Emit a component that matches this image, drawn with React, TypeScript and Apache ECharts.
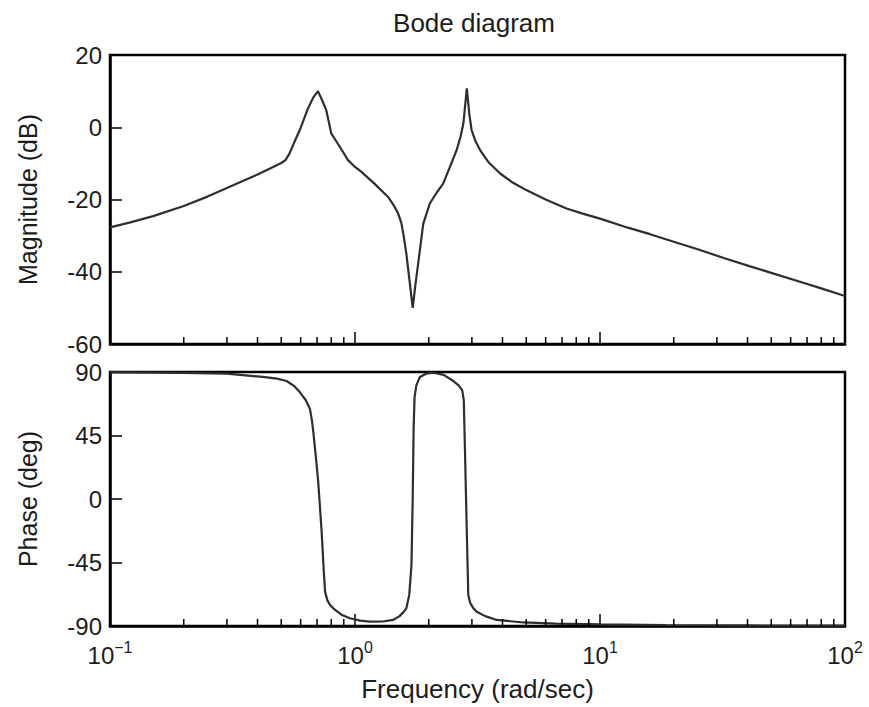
import React, { useEffect, useRef } from "react";
import * as echarts from "echarts";

// Magnitude curve (frequency in rad/sec, magnitude in dB)
const magFreq = [
  0.1, 0.12, 0.15, 0.2, 0.25, 0.3, 0.35, 0.4, 0.45, 0.5, 0.52, 0.54, 0.57, 0.6, 0.64, 0.675, 0.706,
  0.735, 0.763, 0.8, 0.85, 0.9, 0.936, 1.0, 1.06, 1.2, 1.365, 1.45, 1.5, 1.545, 1.575, 1.62, 1.67,
  1.72, 1.765, 1.81, 1.86, 1.9, 2.02, 2.15, 2.29, 2.45, 2.6, 2.7, 2.77, 2.86, 2.93, 2.99, 3.1, 3.24,
  3.5, 3.91, 4.4, 5.0, 6.0, 7.3, 8.5, 10, 13, 16, 20, 25.6, 32, 41, 50, 65, 80, 100,
];
const magDb = [
  -27.7, -26.4, -24.6, -21.8, -19.2, -16.8, -14.8, -13.1, -11.4, -9.9, -9.1, -7.3, -3.6, -0.2, 4.9, 8.2, 10.0,
  7.4, 4.8, -1.7, -4.5, -7.2, -9.1, -11.0, -12.3, -15.6, -19.3, -22.0, -23.9, -26.4, -29.5, -35.0, -42.5,
  -50.0, -43.5, -37.8, -31.5, -26.7, -21.1, -18.2, -15.6, -10.7, -6.3, -2.5, 1.1, 10.8, 3.5, -0.7, -3.8, -6.3,
  -9.6, -12.8, -15.3, -17.4, -20.0, -22.5, -23.9, -25.3, -27.8, -29.6, -31.7, -34.0, -36.2, -38.5, -40.3, -42.7, -44.6, -46.7,
];

// Phase curve (frequency in rad/sec, phase in degrees)
const phaseFreq = [
  0.1, 0.2, 0.3, 0.42, 0.48, 0.526, 0.565, 0.597, 0.63, 0.655, 0.668, 0.676, 0.692, 0.708, 0.731, 0.745,
  0.755, 0.77, 0.79, 0.815, 0.88, 0.954, 1.05, 1.15, 1.3, 1.43, 1.52, 1.58, 1.62, 1.665, 1.7, 1.72, 1.735, 1.75,
  1.78, 1.84, 1.95, 2.09, 2.3, 2.52, 2.65, 2.74, 2.78, 2.81, 2.86, 2.9, 2.95, 3.03, 3.14, 3.4, 3.79, 4.86, 6.6,
  10, 18.6, 40, 100,
];
const phaseDeg = [
  89.8, 89.4, 88.8, 86.5, 85.3, 83.6, 80.0, 75.4, 70.0, 63.7, 55.0, 47.2, 30.0, 11.9, -23.4, -50.0,
  -65.8, -71.5, -75.0, -77.5, -82.0, -84.5, -86.2, -86.9, -86.8, -85.7, -83.0, -80.0, -77.5, -68.0, -46.9, 0.2, 50.0, 72.0,
  80.5, 86.5, 88.8, 89.5, 88.0, 83.6, 80.5, 77.0, 70.0, 35.4, -23.4, -68.0, -73.5, -77.0, -79.9, -83.0, -85.7, -87.5, -88.3,
  -88.9, -89.3, -89.6, -89.8,
];

// Axis ticks
const minorTicks = [0.2, 0.3, 0.4, 0.5, 0.6, 0.7, 0.8, 0.9, 2, 3, 4, 5, 6, 7, 8, 9, 20, 30, 40, 50, 60, 70, 80, 90];
const xRange = [0.1, 100];
const magTicks = [-60, -40, -20, 0, 20];
const phaseTicks = [-90, -45, 0, 45, 90];

const FONT = "'Liberation Sans', Arial, Helvetica, sans-serif";
const TEXT = "#1c1c1c";

export default function App() {
  const ref = useRef<HTMLDivElement>(null);

  useEffect(() => {
    document.body.style.margin = "0";
    const chart = echarts.init(ref.current as HTMLDivElement, null, { renderer: "svg" });

    const gridBase = {
      left: 110,
      width: 735,
      show: true,
      borderColor: "#000",
      borderWidth: 2.5,
      backgroundColor: "transparent",
    };

    const xCommon = {
      type: "log",
      logBase: 10,
      min: xRange[0],
      max: xRange[1],
      axisLine: { show: true, onZero: false, lineStyle: { color: "#000", width: 2.5 } },
      axisTick: { show: true, inside: true, length: 12, lineStyle: { color: "#000", width: 1.5 } },
      splitLine: { show: false },
      minorTick: { show: false },
    };

    const yCommon = {
      type: "value",
      axisLine: { show: true, onZero: false, lineStyle: { color: "#000", width: 2.5 } },
      axisTick: { show: true, inside: true, length: 12, lineStyle: { color: "#000", width: 1.5 } },
      splitLine: { show: false },
      axisLabel: { color: TEXT, fontSize: 24, fontFamily: FONT, margin: 8 },
      nameLocation: "middle",
      nameRotate: 90,
      nameTextStyle: { color: TEXT, fontSize: 25, fontFamily: FONT },
    };

    const minorSeries = (axisIdx: number, yVal: number) => ({
      type: "custom",
      xAxisIndex: axisIdx,
      yAxisIndex: axisIdx,
      silent: true,
      z: 5,
      data: minorTicks.map((v) => [v, yVal]),
      renderItem: (_params: any, api: any) => {
        const p = api.coord([api.value(0), api.value(1)]);
        return {
          type: "line",
          shape: { x1: p[0], y1: p[1], x2: p[0], y2: p[1] - 7 },
          style: { stroke: "#000", lineWidth: 1.5 },
        };
      },
    });

    const option = {
      animation: false,
      backgroundColor: "#fff",
      grid: [
        { ...gridBase, top: 55, height: 289 },
        { ...gridBase, top: 372, height: 254 },
      ],
      xAxis: [
        { ...xCommon, gridIndex: 0, axisLabel: { show: false } },
        {
          ...xCommon,
          gridIndex: 1,
          name: "Frequency (rad/sec)",
          nameLocation: "middle",
          nameGap: 50,
          nameTextStyle: { color: TEXT, fontSize: 26, fontFamily: FONT },
          axisLabel: {
            show: true,
            margin: 13,
            color: TEXT,
            fontFamily: FONT,
            formatter: (v: number) => {
              const e = Math.round(Math.log10(v));
              return `{b|10}{e|${e < 0 ? "−" + -e : e}}`;
            },
            rich: {
              b: { fontSize: 24, lineHeight: 28, color: TEXT, fontFamily: FONT, verticalAlign: "bottom" },
              e: { fontSize: 16, lineHeight: 16, color: TEXT, fontFamily: FONT, verticalAlign: "top" },
            },
          },
        },
      ],
      yAxis: [
        {
          ...yCommon,
          gridIndex: 0,
          min: magTicks[0],
          max: magTicks[magTicks.length - 1],
          interval: 20,
          name: "Magnitude (dB)",
          nameGap: 70,
        },
        {
          ...yCommon,
          gridIndex: 1,
          min: phaseTicks[0],
          max: phaseTicks[phaseTicks.length - 1],
          interval: 45,
          name: "Phase (deg)",
          nameGap: 70,
        },
      ],
      graphic: [
        {
          type: "text",
          x: 474,
          y: 23,
          style: {
            text: "Bode diagram",
            font: `26px ${FONT}`,
            fill: TEXT,
            textAlign: "center",
            textVerticalAlign: "middle",
          },
        },
      ],
      series: [
        {
          type: "line",
          xAxisIndex: 0,
          yAxisIndex: 0,
          showSymbol: false,
          symbol: "none",
          data: magFreq.map((f, i) => [f, magDb[i]]),
          lineStyle: { color: "#2e2e2e", width: 2.2 },
          z: 3,
        },
        {
          type: "line",
          xAxisIndex: 1,
          yAxisIndex: 1,
          showSymbol: false,
          symbol: "none",
          data: phaseFreq.map((f, i) => [f, phaseDeg[i]]),
          lineStyle: { color: "#2e2e2e", width: 2.2 },
          z: 3,
        },
        minorSeries(0, magTicks[0]),
        minorSeries(1, phaseTicks[0]),
      ],
    };

    chart.setOption(option as any);
    return () => chart.dispose();
  }, []);

  return <div ref={ref} style={{ width: 869, height: 707 }} />;
}
